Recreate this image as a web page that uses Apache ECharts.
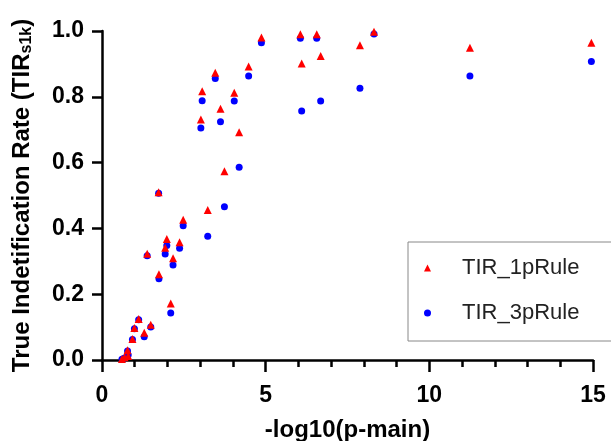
<!DOCTYPE html>
<html>
<head>
<meta charset="utf-8">
<script src="https://cdn.jsdelivr.net/npm/echarts@6/dist/echarts.min.js"></script>
<style>html,body{margin:0;padding:0;background:#fff}#c{width:611px;height:441px}</style>
</head>
<body>
<div id="c"></div>
<script>
const xValues = [0.61, 0.69, 0.78, 0.80, 0.93, 0.99, 1.12, 1.29, 1.38, 1.49, 1.73, 1.74, 1.93, 1.98, 2.10, 2.17, 2.37, 2.48, 3.02, 3.06, 3.23, 3.46, 3.62, 3.74, 4.04, 4.19, 4.48, 4.87, 6.06, 6.10, 6.56, 6.68, 7.88, 8.31, 11.24, 14.95];
const tir1pRule = [0.003, 0.008, 0.030, 0.012, 0.064, 0.097, 0.125, 0.083, 0.323, 0.107, 0.510, 0.261, 0.341, 0.368, 0.172, 0.309, 0.358, 0.426, 0.731, 0.817, 0.456, 0.873, 0.764, 0.574, 0.812, 0.692, 0.892, 0.980, 0.990, 0.901, 0.990, 0.924, 0.957, 0.998, 0.949, 0.964];
const tir3pRule = [0.002, 0.006, 0.027, 0.015, 0.062, 0.095, 0.122, 0.071, 0.317, 0.100, 0.507, 0.247, 0.322, 0.348, 0.143, 0.289, 0.340, 0.408, 0.705, 0.788, 0.376, 0.856, 0.724, 0.466, 0.787, 0.586, 0.863, 0.964, 0.978, 0.757, 0.978, 0.787, 0.826, 0.991, 0.863, 0.907];
const seriesNames = ['TIR_1pRule', 'TIR_3pRule'];
const xTicks = [0, 5, 10, 15];
const yTicks = [0.0, 0.2, 0.4, 0.6, 0.8, 1.0];

const FONT = '"Liberation Sans", Arial, sans-serif';
const chart = echarts.init(document.getElementById('c'));
const xMin = xTicks[0], xMax = xTicks[xTicks.length - 1];
chart.setOption({
  animation: false,
  backgroundColor: '#fff',
  grid: { left: 102, right: 18, top: 31, bottom: 81, containLabel: false, outerBoundsMode: 'none' },
  xAxis: [{
    type: 'value', min: xMin, max: xMax, interval: 5,
    name: '-log10(p-main)', nameLocation: 'middle', nameGap: 58,
    nameTextStyle: { fontFamily: FONT, fontWeight: 'bold', fontSize: 24, color: '#000' },
    axisLine: { show: true, onZero: false, lineStyle: { color: '#000', width: 2.5 } },
    axisTick: { show: true, length: 12, lineStyle: { color: '#000', width: 2.5 } },
    axisLabel: { fontFamily: FONT, fontWeight: 'bold', fontSize: 23, color: '#000', margin: 24 },
    splitLine: { show: false }
  }, {
    type: 'value', min: xMin, max: xMax, interval: 1, position: 'bottom',
    axisLine: { show: false },
    axisTick: { show: true, length: 7, lineStyle: { color: '#000', width: 2.5 } },
    axisLabel: { show: false },
    splitLine: { show: false }
  }],
  yAxis: {
    type: 'value', min: 0, max: 1, interval: 0.2,
    name: 'True Indetification Rate (TIR{sub|s1k})', nameLocation: 'middle', nameGap: 67,
    nameTextStyle: {
      fontFamily: FONT, fontWeight: 'bold', fontSize: 24, color: '#000',
      rich: { sub: { fontFamily: FONT, fontWeight: 'bold', fontSize: 16, color: '#000', verticalAlign: 'bottom', padding: [10, 0, 0, 0] } }
    },
    axisLine: { show: true, onZero: false, lineStyle: { color: '#000', width: 2.5 } },
    axisTick: { show: true, length: 10, lineStyle: { color: '#000', width: 2.5 } },
    axisLabel: { fontFamily: FONT, fontWeight: 'bold', fontSize: 23, color: '#000', margin: 18,
      formatter: v => v.toFixed(1) },
    splitLine: { show: false }
  },
  legend: {
    orient: 'vertical', left: 408, top: 242,
    padding: [15, 60, 17, 16],
    itemGap: 23, itemWidth: 7, itemHeight: 7,
    borderColor: '#888', borderWidth: 1,
    textStyle: { fontFamily: FONT, fontSize: 22, color: '#222', lineHeight: 20, padding: [0, 0, 0, 26] },
    data: seriesNames
  },
  series: [
    {
      name: seriesNames[0], type: 'scatter', symbol: 'triangle', symbolSize: 8,
      itemStyle: { color: '#ff0000', opacity: 1 }, z: 3,
      data: xValues.map((x, i) => [x, tir1pRule[i]])
    },
    {
      name: seriesNames[1], type: 'scatter', symbol: 'circle', symbolSize: 7,
      itemStyle: { color: '#0000ff', opacity: 1 }, z: 2,
      data: xValues.map((x, i) => [x, tir3pRule[i]])
    }
  ]
});
</script>
</body>
</html>
